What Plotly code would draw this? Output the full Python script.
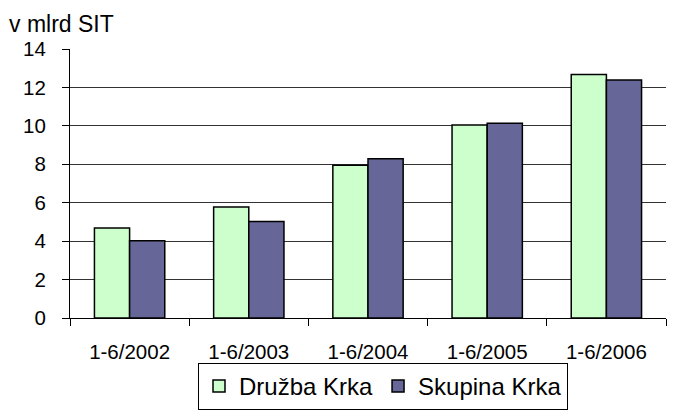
import plotly.graph_objects as go

categories = ["1-6/2002", "1-6/2003", "1-6/2004", "1-6/2005", "1-6/2006"]
druzba = [4.68, 5.78, 7.95, 10.05, 12.67]
skupina = [4.02, 5.02, 8.29, 10.13, 12.39]
y_ticks = [0, 2, 4, 6, 8, 10, 12, 14]

W, H = 675, 419
left_px, right_px = 70, 666
top_px, bottom_px = 49, 336
plot_w = right_px - left_px
plot_h = bottom_px - top_px

fig = go.Figure()
fig.add_trace(go.Bar(x=categories, y=druzba, name="Družba Krka",
                     marker=dict(color="#CCFFCC", line=dict(color="#000000", width=1.5))))
fig.add_trace(go.Bar(x=categories, y=skupina, name="Skupina Krka",
                     marker=dict(color="#666699", line=dict(color="#000000", width=1.5))))

fig.add_annotation(text="v mlrd SIT", xref="paper", yref="paper",
                   x=(7 - left_px) / plot_w, xanchor="left",
                   y=(bottom_px - 22) / plot_h, yanchor="middle",
                   showarrow=False, font=dict(size=23, color="#000000"))

fig.update_layout(
    width=W, height=H,
    margin=dict(l=left_px, r=W - right_px, t=top_px, b=H - bottom_px, pad=0),
    paper_bgcolor="white", plot_bgcolor="white",
    barmode="group", bargap=0.41, bargroupgap=0,
    font=dict(family="Liberation Sans, Arial, sans-serif", color="#000000"),
    showlegend=True,
    legend=dict(orientation="h", x=(383 - left_px) / plot_w, xanchor="center",
                y=-(384 - bottom_px) / plot_h, yanchor="top", font=dict(size=24, color="#000000"),
                bordercolor="#000000", borderwidth=1, bgcolor="white",
                traceorder="normal"),
)
fig.update_xaxes(type="category", range=[-0.5, 4.5], showline=True, linecolor="#000000",
                 linewidth=1, ticks="outside", tickson="boundaries", ticklen=7,
                 tickcolor="#000000", tickfont=dict(size=20.5, color="#000000"),
                 showgrid=False, zeroline=False, ticklabelstandoff=15)
fig.update_yaxes(range=[0, 14], tickvals=y_ticks, showline=True, linecolor="#000000",
                 linewidth=1, ticks="outside", ticklen=7, tickcolor="#000000",
                 tickfont=dict(size=20.5, color="#000000"), showgrid=True,
                 gridcolor="#333333", gridwidth=1, zeroline=False, ticklabelstandoff=12)

fig.write_html("out.html", config={"displayModeBar": False},
               post_script="document.body.style.margin='0';document.body.style.overflow='hidden';")
